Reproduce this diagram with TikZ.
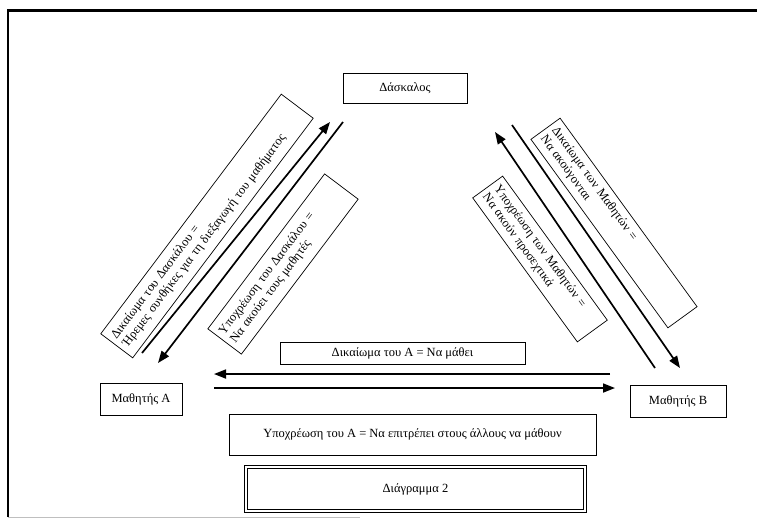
\documentclass[tikz,border=0pt]{standalone}
\usepackage{fontspec}
\setmainfont{Liberation Serif}
\usetikzlibrary{arrows.meta}
\tikzset{
  plainbox/.style={draw, line width=0.7pt, inner sep=2pt, font=\fontsize{12.5}{14}\selectfont},
  rotbox/.style={draw, line width=0.7pt, inner xsep=4pt, inner ysep=2pt, align=left, font=\fontsize{12.5}{14}\selectfont},
  arr/.style={line width=1.7pt, -{Triangle[length=12pt,width=9pt]}}
}
\begin{document}
\begin{tikzpicture}[x=1pt,y=1pt]
\useasboundingbox (0,0) rectangle (757,-523);
% frame
\draw[line width=3pt] (8,-10) -- (757,-10);
\draw[line width=2pt] (8,-9) -- (8,-517);
\draw[line width=0.6pt, black!25] (8,-517) -- (360,-517);
% main nodes
\node[plainbox, minimum width=124pt, minimum height=30pt] (dask) at (405,-88) {Δάσκαλος};
\node[plainbox, minimum width=82pt, minimum height=32pt] (mA) at (141,-399) {Μαθητής Α};
\node[plainbox, minimum width=96pt, minimum height=32pt] (mB) at (678,-401) {Μαθητής Β};
\node[plainbox, minimum width=245pt, minimum height=22pt] (rA) at (402.5,-353) {Δικαίωμα του Α = Να μάθει};
\node[plainbox, minimum width=367pt, minimum height=41pt] (oA) at (412.5,-434.5) {Υποχρέωση του Α = Να επιτρέπει στους άλλους να μάθουν};
\node[draw, double, double distance=1.8pt, line width=0.8pt, minimum width=339pt, minimum height=44pt, font=\fontsize{12.5}{14}\selectfont] (diag) at (415.5,-489) {Διάγραμμα 2};
% rotated boxes
\node[rotbox, rotate=53, minimum width=300pt, minimum height=40pt, text width=290pt] (b1) at (207,-226)
  {Δικαίωμα του Δασκάλου =\\Ήρεμες συνθήκες για τη διεξαγωγή του μαθήματος};
\node[rotbox, rotate=53, minimum width=194pt, minimum height=42pt, text width=184pt] (b2) at (283,-264)
  {Υποχρέωση του Δασκάλου =\\Να ακούει τους μαθητές};
\node[rotbox, rotate=-54, minimum width=233pt, minimum height=36pt, text width=223pt] (b3) at (614,-223)
  {Δικαίωμα των Μαθητών =\\Να ακούγονται};
\node[rotbox, rotate=-54, minimum width=178pt, minimum height=37pt, text width=168pt] (b4) at (540,-259)
  {Υποχρέωση των Μαθητών =\\Να ακούν προσεχτικά};
% arrow endpoints
\coordinate (l1s) at (142,-353); \coordinate (l1e) at (330,-122);
\coordinate (l2s) at (343,-122); \coordinate (l2e) at (158,-363);
\coordinate (r1s) at (655,-368); \coordinate (r1e) at (495,-132);
\coordinate (r2s) at (512,-125); \coordinate (r2e) at (680,-368);
\coordinate (h1s) at (610,-374); \coordinate (h1e) at (214,-374);
\coordinate (h2s) at (214,-388); \coordinate (h2e) at (615,-388);
\draw[arr] (l1s) -- (l1e);
\draw[arr] (l2s) -- (l2e);
\draw[arr] (r1s) -- (r1e);
\draw[arr] (r2s) -- (r2e);
\draw[arr] (h1s) -- (h1e);
\draw[arr] (h2s) -- (h2e);
\end{tikzpicture}
\end{document}
